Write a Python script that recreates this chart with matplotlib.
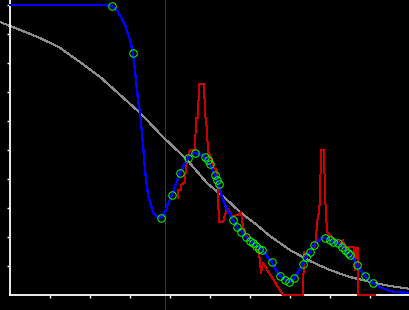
import matplotlib
matplotlib.use("Agg")
import matplotlib.pyplot as plt

# smooth gray reference curve
gray_x = [-0.25, 0.25, 0.75, 1.25, 1.75, 2.25, 2.75, 3.25, 3.825, 4.425, 4.925,
          5.425, 5.75, 6.175, 6.5, 7.0, 7.5, 8.0, 8.5, 9.0, 9.5, 10.0]
gray_y = [9.41, 9.14, 8.86, 8.52, 8.03, 7.52, 6.90, 6.28, 5.45, 4.66, 3.86,
          3.28, 2.86, 2.41, 2.03, 1.55, 1.17, 0.86, 0.62, 0.45, 0.31, 0.21]

# blue fitted curve
blue_x = [0, 1.25, 2.25, 2.45, 2.55, 2.7, 2.875, 3.0, 3.075, 3.15, 3.2, 3.25, 3.325,
          3.375, 3.45, 3.575, 3.675, 3.775, 3.875, 3.95, 4.05, 4.15, 4.25, 4.35, 4.45,
          4.55, 4.625, 4.725, 4.825, 4.9, 4.975, 5.05, 5.125, 5.2, 5.3, 5.4, 5.5, 5.575,
          5.675, 5.8, 5.9, 6.0, 6.1, 6.175, 6.25, 6.325, 6.425, 6.55, 6.65, 6.75, 6.875,
          6.975, 7.05, 7.1, 7.2, 7.325, 7.4, 7.5, 7.6, 7.7, 7.8, 7.875, 8.0, 8.075, 8.2,
          8.3, 8.375, 8.45, 8.5, 8.6, 8.675, 8.775, 8.875, 8.975, 9.075, 9.25, 9.425,
          9.625, 10.0]
blue_y = [10.0, 10.0, 10.0, 9.98, 9.97, 9.76, 9.31, 8.79, 8.34, 7.41, 6.72, 6.31, 5.17,
          4.31, 3.45, 2.86, 2.69, 2.66, 2.86, 3.14, 3.45, 3.83, 4.21, 4.48, 4.72,
          4.86, 4.90, 4.86, 4.79, 4.72, 4.55, 4.38, 4.14, 3.86, 3.38, 3.03, 2.79, 2.59,
          2.34, 2.17, 2.0, 1.86, 1.76, 1.66, 1.59, 1.52, 1.34, 1.14, 0.86, 0.66, 0.52,
          0.45, 0.48, 0.59, 0.79, 1.07, 1.31, 1.48, 1.72, 1.86, 1.97, 1.97, 1.90, 1.83, 1.79,
          1.66, 1.55, 1.45, 1.38, 1.21, 1.03, 0.83, 0.66, 0.52, 0.41, 0.28, 0.17,
          0.10, 0.07]

# sample points (green circles)
pts_x = [2.55, 3.075, 3.775, 4.05, 4.25, 4.45, 4.625, 4.875, 4.95, 5.0, 5.125, 5.175,
         5.225, 5.575, 5.675, 5.775, 5.9, 6.0, 6.075, 6.15, 6.225, 6.3, 6.55, 6.75,
         6.875, 6.975, 7.1, 7.325, 7.4, 7.5, 7.6, 7.875, 8.0, 8.075, 8.2, 8.3, 8.375,
         8.45, 8.5, 8.675, 8.875, 9.075]
pts_y = [9.97, 8.34, 2.66, 3.45, 4.21, 4.72, 4.90, 4.76, 4.66, 4.52, 4.14, 3.97,
         3.83, 2.59, 2.34, 2.17, 2.0, 1.86, 1.79, 1.69, 1.59, 1.55, 1.14, 0.66,
         0.52, 0.45, 0.59, 1.07, 1.31, 1.48, 1.72, 1.97, 1.90, 1.83, 1.79, 1.66, 1.55,
         1.45, 1.38, 1.03, 0.66, 0.41]

# red raw signal
red_x = [4.2, 4.2, 4.275, 4.275, 4.375, 4.4, 4.45, 4.5, 4.625, 4.65, 4.7, 4.725, 4.85,
         4.875, 4.925, 4.95, 5.05, 5.075, 5.175, 5.2, 5.225, 5.325, 5.425, 5.55, 5.7,
         5.775, 5.825, 5.9, 6.0, 6.1, 6.2, 6.225, 6.275, 6.325, 6.825, 7.325, 7.35,
         7.425, 7.55, 7.625, 7.65, 7.675, 7.725, 7.75, 7.775, 7.85, 7.875, 7.9, 7.925,
         8.05, 8.175, 8.275, 8.325, 8.375, 8.475, 8.6, 8.625, 8.65, 8.7, 8.7, 9.125]
red_y = [3.34, 3.62, 3.62, 3.79, 3.90, 4.48, 4.76, 5.0, 5.0, 6.10, 6.10, 7.28, 7.28,
         6.28, 5.69, 4.93, 4.66, 4.38, 4.31, 3.38, 2.52, 2.52, 3.0, 2.72, 2.76,
         2.86, 2.34, 2.03, 1.86, 1.72, 1.55, 1.45, 0.76, 1.10, 0.0, 0.0, 1.48,
         1.34, 1.59, 1.72, 1.90, 2.52, 2.86, 3.34, 5.0, 5.0, 3.38, 2.86, 2.17,
         2.0, 1.83, 1.79, 1.90, 1.55, 1.66, 1.66, 0.86, 1.62, 1.62, 0.0, 0.0]

vline_x = 3.875
x_ticks = [1, 2, 3, 4, 5, 6, 7, 8, 9]
y_ticks = [1, 2, 3, 4, 5, 6, 7, 8, 9, 10]

plt.rcParams["lines.antialiased"] = False

fig = plt.figure(figsize=(4.1, 3.1), dpi=100, facecolor="black")
ax = fig.add_axes([0, 0, 1, 1])
ax.set_facecolor("black")

ax.axvline(vline_x, color="#800080", lw=0.72, zorder=1, antialiased=False)
ax.plot(gray_x, gray_y, color="#8c8c8c", lw=0.72, zorder=2)
ax.plot(red_x, red_y, color="#cc0000", lw=0.72, zorder=3)
ax.plot(blue_x, blue_y, color="#0000ff", lw=0.9, zorder=4)
ax.plot(pts_x, pts_y, ls="none", marker="o", ms=5.4, mfc="none", mec="#00ff00",
        mew=0.72, zorder=5)

ax.set_xlim(-0.25, 10.0)
ax.set_ylim(-0.517, 10.17)

for s in ["top", "right"]:
    ax.spines[s].set_visible(False)
ax.spines["left"].set_position(("data", 0))
ax.spines["bottom"].set_position(("data", 0))
ax.spines["left"].set_bounds(0, 10.17)
ax.spines["bottom"].set_bounds(0, 10.0)
ax.spines["left"].set_color("white")
ax.spines["bottom"].set_color("white")
ax.spines["left"].set_linewidth(1.3)
ax.spines["bottom"].set_linewidth(1.3)

ax.set_xticks(x_ticks)
ax.set_yticks(y_ticks)
ax.set_xticklabels([])
ax.set_yticklabels([])
ax.tick_params(direction="out", length=2.5, width=1.0, color="white")

fig.savefig("out.png", dpi=100, facecolor="black")
